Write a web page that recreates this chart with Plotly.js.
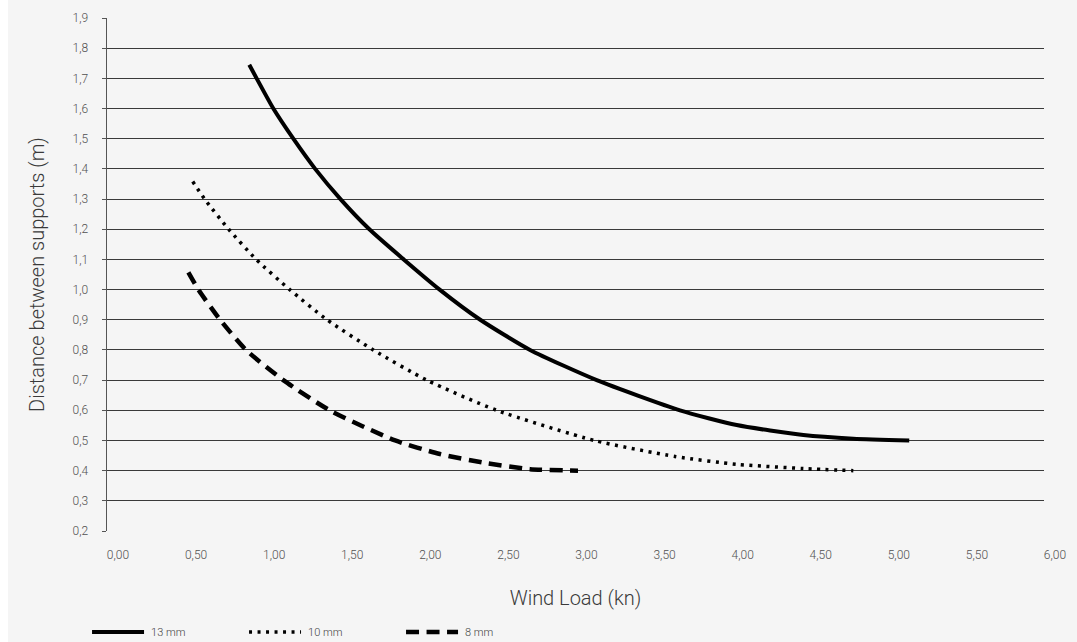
<!DOCTYPE html>
<html>
<head>
<meta charset="utf-8">
<script src="https://cdn.plot.ly/plotly-3.0.1.min.js"></script>
<style>
  html, body { margin: 0; padding: 0; background: #ffffff; }
  #chart { position: absolute; left: 8px; top: 0; width: 1069px; height: 642px; }
</style>
</head>
<body>
<div id="chart"></div>
<script>
// Series values
const seriesNames = ["13 mm", "10 mm", "8 mm"];

const mm13_x = [0.911, 0.958, 1.065, 1.193, 1.333, 1.495, 1.680, 1.900, 2.130, 2.390, 2.709, 3.136, 3.669, 4.032, 4.459, 4.779, 5.137];
const mm13_y = [1.745, 1.70, 1.60, 1.50, 1.40, 1.30, 1.20, 1.10, 1.00, 0.90, 0.80, 0.70, 0.60, 0.551, 0.518, 0.506, 0.50];

const mm10_x = [0.549, 0.625, 0.779, 0.955, 1.170, 1.409, 1.705, 2.047, 2.495, 3.120, 3.637, 4.032, 4.459, 4.779];
const mm10_y = [1.358, 1.30, 1.20, 1.10, 1.00, 0.90, 0.80, 0.70, 0.60, 0.50, 0.447, 0.421, 0.407, 0.40];

const mm8_x = [0.521, 0.585, 0.724, 0.890, 1.129, 1.426, 1.845, 2.132, 2.431, 2.709, 3.016];
const mm8_y = [1.057, 1.00, 0.90, 0.80, 0.70, 0.60, 0.50, 0.455, 0.425, 0.405, 0.40];

const xTickVals = [0, 0.5, 1, 1.5, 2, 2.5, 3, 3.5, 4, 4.5, 5, 5.5, 6];
const yTickVals = [0.2, 0.3, 0.4, 0.5, 0.6, 0.7, 0.8, 0.9, 1.0, 1.1, 1.2, 1.3, 1.4, 1.5, 1.6, 1.7, 1.8, 1.9];

const FONT = "Roboto, 'Liberation Sans', sans-serif";

const traces = [
  { x: mm13_x, y: mm13_y, name: seriesNames[0], mode: "lines",
    line: { color: "#000000", width: 4, shape: "spline", smoothing: 0.6 } },
  { x: mm10_x, y: mm10_y, name: seriesNames[1], mode: "lines",
    line: { color: "#000000", width: 3.5, dash: "3px,5.5px", shape: "spline", smoothing: 0.6 } },
  { x: mm8_x, y: mm8_y, name: seriesNames[2], mode: "lines",
    line: { color: "#000000", width: 4.5, dash: "13px,7.5px", shape: "spline", smoothing: 0.6 } }
];

const layout = {
  width: 1069, height: 642,
  paper_bgcolor: "#f5f5f5",
  plot_bgcolor: "#f5f5f5",
  separators: ",.",
  margin: { l: 99, r: 33, t: 18, b: 111, autoexpand: false },
  font: { family: FONT, color: "#555555", size: 11 },
  xaxis: {
    range: [0, 6],
    tickvals: xTickVals,
    tickformat: ".2f",
    showgrid: false,
    zeroline: false,
    showline: false,
    automargin: false,
    ticks: "",
    ticklabelshift: 11,
    ticklabelstandoff: 15,
    tickfont: { family: FONT, size: 12, color: "#505050", weight: 300 },
    title: { text: "Wind Load (kn)", font: { family: FONT, size: 20, color: "#3a3a3a", weight: 300 }, standoff: 29 }
  },
  yaxis: {
    range: [0.2, 1.9],
    tickvals: yTickVals,
    tickformat: ".1f",
    showgrid: true,
    gridcolor: "#3a3a3a",
    gridwidth: 1,
    zeroline: false,
    showline: true,
    linecolor: "#555555",
    linewidth: 1.5,
    automargin: false,
    ticks: "outside",
    ticklen: 4,
    tickcolor: "#555555",
    ticklabelstandoff: 11,
    tickfont: { family: FONT, size: 12, color: "#505050", weight: 300 },
    title: { text: "Distance between supports (m)", font: { family: FONT, size: 20, color: "#3a3a3a", weight: 300 }, standoff: 22 }
  },
  showlegend: true,
  legend: {
    orientation: "h",
    x: -0.0213, xanchor: "left",
    y: -0.197, yanchor: "middle",
    bgcolor: "rgba(0,0,0,0)",
    font: { family: FONT, size: 11, color: "#444444", weight: 300 },
    itemwidth: 54,
    entrywidth: 88,
    entrywidthmode: "pixels"
  }
};

Plotly.newPlot("chart", traces, layout, { displayModeBar: false, staticPlot: true }).then(function (gd) {
  // lengthen the legend line samples to match the reference's longer keys
  gd.querySelectorAll(".legend .legendlines path").forEach(function (p) {
    p.setAttribute("d", "M5,0h52");
  });
});
</script>
</body>
</html>
